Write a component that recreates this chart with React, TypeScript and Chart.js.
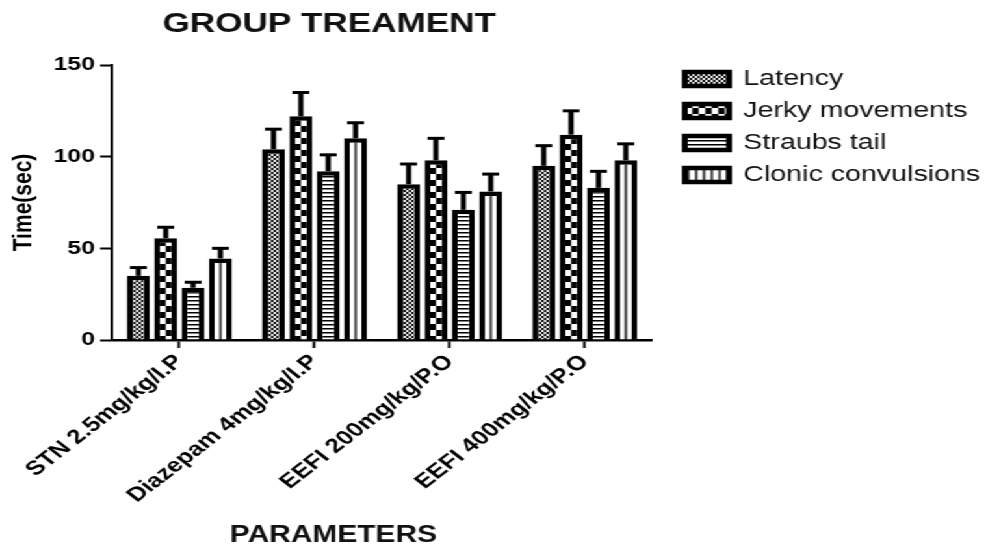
import React, { useEffect, useRef } from 'react';
import { Chart, registerables, layouts } from 'chart.js';

Chart.register(...registerables);

// ---------- data ----------
const categories = ['STN 2.5mg/kg/I.P', 'Diazepam 4mg/kg/I.P', 'EEFI 200mg/kg/P.O', 'EEFI 400mg/kg/P.O'];
const seriesNames = ['Latency', 'Jerky movements', 'Straubs tail', 'Clonic convulsions'];
const latency = [35, 104, 85, 95];
const latencyErr = [4.5, 11, 11, 11];
const jerky = [55.5, 122, 98, 112];
const jerkyErr = [6, 13, 12, 13];
const straubs = [28.5, 92, 71, 83];
const straubsErr = [3, 9, 9.5, 9];
const clonic = [44.5, 110, 81, 98];
const clonicErr = [5.5, 8.5, 9.5, 9];
const yTicks = [0, 50, 100, 150];
const chartTitle = 'GROUP TREAMENT';
const xTitle = 'PARAMETERS';
const yTitle = 'Time(sec)';

// ---------- layout constants ----------
const STRETCH = 1.3;
const INNER_W = Math.round(993 / STRETCH);
const HEIGHT = 547;
const FONT = "'Liberation Sans', Arial, Helvetica, sans-serif";
const CAT_PCT = 0.81;
const BAR_PCT = 0.84;

type Kind = 'latency' | 'jerky' | 'straubs' | 'clonic';

function makeTile(kind: Kind): HTMLCanvasElement {
  const c = document.createElement('canvas');
  let w = 4, h = 4;
  if (kind === 'jerky') { w = 10; h = 12; }
  if (kind === 'straubs') { w = 6; h = 4; }
  if (kind === 'clonic') { w = 6; h = 6; }
  c.width = w; c.height = h;
  const g = c.getContext('2d')!;
  g.fillStyle = '#fff';
  g.fillRect(0, 0, w, h);
  g.fillStyle = '#000';
  if (kind === 'latency') { g.fillRect(0, 0, 2, 2); g.fillRect(2, 2, 2, 2); g.fillRect(1, 1, 1, 1); }
  if (kind === 'jerky') { g.fillRect(0, 0, 5, 6); g.fillRect(5, 6, 5, 6); }
  if (kind === 'straubs') { g.fillRect(0, 0, 6, 1.5); }
  if (kind === 'clonic') { g.fillRect(2.25, 0, 1.5, 6); }
  return c;
}

function patternFill(kind: Kind, tiles: Record<Kind, HTMLCanvasElement>) {
  return (ctx: any) => {
    const chart = ctx.chart;
    const tile = tiles[kind];
    const pat = chart.ctx.createPattern(tile, 'repeat');
    const xs = chart.scales && chart.scales.x;
    if (ctx.type === 'data' && xs && typeof ctx.dataIndex === 'number') {
      const nd = chart.data.datasets.length;
      const catW = (xs.right - xs.left) / categories.length;
      const slot = (catW * CAT_PCT) / nd;
      const cx = xs.getPixelForValue(ctx.dataIndex) + (ctx.datasetIndex - (nd - 1) / 2) * slot;
      if (isFinite(cx)) pat.setTransform(new DOMMatrix().translate(cx - tile.width / 2, 0));
    }
    return pat;
  };
}

function spacer(position: string, size: number) {
  return {
    position,
    fullSize: false,
    weight: 0,
    options: {},
    width: 0, height: 0, left: 0, top: 0, right: 0, bottom: 0,
    isHorizontal() { return position === 'top' || position === 'bottom'; },
    update(maxWidth: number, maxHeight: number) {
      if (position === 'top' || position === 'bottom') { this.width = maxWidth; this.height = size; }
      else { this.width = size; this.height = maxHeight; }
    },
    draw() {},
  };
}

const spacerPlugin = {
  id: 'spacers',
  beforeInit(chart: any) {
    layouts.addBox(chart, spacer('top', 7) as any);
    layouts.addBox(chart, spacer('right', 15) as any);
  },
};

const errorBarPlugin = {
  id: 'errorBars',
  afterDatasetsDraw(chart: any) {
    const { ctx } = chart;
    const ys = chart.scales.y;
    ctx.save();
    ctx.strokeStyle = '#000';
    ctx.lineCap = 'butt';
    chart.data.datasets.forEach((ds: any, di: number) => {
      const meta = chart.getDatasetMeta(di);
      if (meta.hidden) return;
      meta.data.forEach((bar: any, i: number) => {
        const v = ds.data[i];
        const e = ds.errors[i];
        const top = ys.getPixelForValue(v + e);
        ctx.lineWidth = 4;
        ctx.beginPath();
        ctx.moveTo(bar.x, bar.y);
        ctx.lineTo(bar.x, top);
        ctx.stroke();
        ctx.lineWidth = 3;
        ctx.beginPath();
        ctx.moveTo(bar.x - 6.5, top);
        ctx.lineTo(bar.x + 6.5, top);
        ctx.stroke();
      });
    });
    ctx.restore();
  },
};

const textPlugin = {
  id: 'titles',
  afterDraw(chart: any) {
    const { ctx, chartArea: a } = chart;
    ctx.save();
    ctx.fillStyle = '#111';
    ctx.textAlign = 'center';
    ctx.textBaseline = 'alphabetic';
    ctx.font = `bold 27px ${FONT}`;
    ctx.fillText(chartTitle, a.left + (a.right - a.left) * 0.402, a.top - 33);
    ctx.font = `bold 23px ${FONT}`;
    ctx.fillText(xTitle, a.left + (a.right - a.left) * 0.41, a.bottom + 202);
    ctx.restore();
  },
};

export default function App() {
  const ref = useRef<HTMLCanvasElement>(null);

  useEffect(() => {
    if (!ref.current) return;
    const tiles: Record<Kind, HTMLCanvasElement> = {
      latency: makeTile('latency'),
      jerky: makeTile('jerky'),
      straubs: makeTile('straubs'),
      clonic: makeTile('clonic'),
    };
    const values = [latency, jerky, straubs, clonic];
    const errors = [latencyErr, jerkyErr, straubsErr, clonicErr];
    const kinds: Kind[] = ['latency', 'jerky', 'straubs', 'clonic'];

    const chart = new Chart(ref.current, {
      type: 'bar',
      data: {
        labels: categories,
        datasets: seriesNames.map((name, k) => ({
          label: name,
          data: values[k],
          errors: errors[k],
          backgroundColor: patternFill(kinds[k], tiles),
          borderColor: '#000',
          borderWidth: 4.5,
          borderSkipped: 'start',
          categoryPercentage: CAT_PCT,
          barPercentage: BAR_PCT,
        })) as any,
      },
      options: {
        responsive: true,
        maintainAspectRatio: false,
        animation: false,
        layout: { padding: { top: 58, left: 4, right: 0, bottom: 0 } },
        plugins: {
          title: { display: false },
          tooltip: { enabled: false },
          legend: {
            position: 'right',
            align: 'start',
            maxWidth: 320,
            labels: {
              boxWidth: 34,
              boxHeight: 14,
              padding: 10,
              color: '#111',
              font: { family: FONT, size: 22 },
            },
          },
        },
        scales: {
          x: {
            grid: { offset: false, drawOnChartArea: false, drawTicks: true, tickLength: 8, tickWidth: 2, tickColor: '#000' },
            border: { display: true, color: '#000', width: 2.5 },
            ticks: {
              minRotation: 45,
              maxRotation: 45,
              autoSkip: false,
              padding: 2,
              color: '#000',
              font: { family: FONT, size: 20, weight: 'bold' },
            },
            afterFit: (s: any) => { s.height = 207; },
          },
          y: {
            min: yTicks[0],
            max: yTicks[yTicks.length - 1],
            ticks: {
              stepSize: yTicks[1] - yTicks[0],
              padding: 4,
              color: '#000',
              font: { family: FONT, size: 19, weight: 'bold' },
            },
            grid: { drawOnChartArea: false, drawTicks: true, tickLength: 9, tickWidth: 2, tickColor: '#000' },
            border: { display: true, color: '#000', width: 2 },
            title: {
              display: true,
              text: yTitle,
              color: '#000',
              font: { family: FONT, size: 21, weight: 'bold' },
              padding: { top: 2, bottom: 0 },
            },
            afterFit: (s: any) => { s.width = 82; },
          },
        },
      } as any,
      plugins: [spacerPlugin, errorBarPlugin, textPlugin] as any,
    });
    return () => chart.destroy();
  }, []);

  return (
    <div
      style={{
        position: 'fixed',
        left: 0,
        top: 0,
        width: INNER_W,
        height: HEIGHT,
        transform: `scaleX(${STRETCH})`,
        transformOrigin: '0 0',
        background: '#fff',
      }}
    >
      <canvas ref={ref} />
    </div>
  );
}
